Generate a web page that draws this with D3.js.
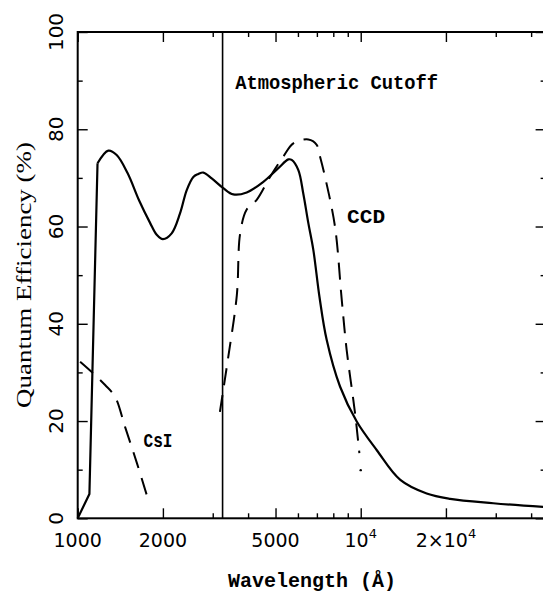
<!DOCTYPE html>
<html>
<head>
<meta charset="utf-8">
<script src="https://cdn.jsdelivr.net/npm/d3@7"></script>
<style>
  html, body { margin: 0; padding: 0; background: #fff; }
  svg { display: block; }
</style>
</head>
<body>
<script>
// ---------- data ----------
// leading straight segment of the solid (detector) curve
const solidRise = [[1000,0],[1100,5],[1175,73]];
// smooth remainder of the solid curve
const solidCurve = [
  [1175,73],[1283,75.6],[1373,74.7],[1500,71],[1650,65.3],[1800,60.8],[1902,58.3],[2000,57.4],
  [2148,58.6],[2299,62.7],[2428,67.5],[2562,70.2],[2668,70.8],[2779,71.1],[2975,69.9],
  [3269,67.9],[3546,66.6],[3955,67],[4527,69.2],[5114,72],[5550,73.8],[5702,73.7],
  [6020,71.6],[6266,66.8],[6530,60.7],[6800,55.2],[7150,45.5],[7580,36.7],[8450,27.1],
  [9680,19.9],[11400,14],[13800,7.9],[17100,5.1],[20700,4],[29400,3.1],[45000,2.3]
];
const ccdCurve = [
  [3180,21.9],[3400,33],[3650,45.9],[3750,58.6],[3955,63.5],[4290,65.5],[4781,70.2],
  [5330,74.4],[5780,77.1],[6530,77.9],[6990,76.8],[7180,74.4],[7480,70.2],[8110,60],
  [8570,44.9],[8920,34.6],[9550,21.6],[9890,13.4]
];
const ccdEndDot = [10000, 9.9];
const csiCurve = [
  [1020,32.2],[1135,29.8],[1250,27.4],[1355,25],[1470,18.8],[1620,11.3],[1760,4.5]
];
const cutoffWavelength = 3250;
const xDomain = [1000, 45000];
const yDomain = [0, 100];
const xMajorTicks = [1000, 2000, 5000, 10000, 20000];
const xMajorLabels = ["1000", "2000", "5000", "10^4", "2×10^4"];
const xMinorTicks = [3000, 4000, 6000, 7000, 8000, 9000, 30000, 40000];
const yMajorTicks = [0, 20, 40, 60, 80, 100];
const yMinorTicks = [10, 30, 50, 70, 90];
const annotations = [
  { text: "Atmospheric Cutoff", x: 3600, y: 88.3, len: 203 },
  { text: "CCD", x: 8950, y: 60.8, len: 38 },
  { text: "CsI", x: 1708, y: 14.7, len: 29 }
];
const xTitle = "Wavelength (Å)";
const yTitle = "Quantum Efficiency (%)";

// ---------- layout ----------
const W = 543, H = 592;
const L = 77.7, R = 545.6, T = 32, B = 518.3;

const svg = d3.select("body").append("svg").attr("width", W).attr("height", H);
svg.append("rect").attr("width", W).attr("height", H).attr("fill", "#fff");

const x = d3.scaleLog().domain(xDomain).range([L, R]);
const y = d3.scaleLinear().domain(yDomain).range([B, T]);

const mono = "'Liberation Mono', 'DejaVu Sans Mono', monospace";
const sans = "'DejaVu Sans', sans-serif";
const serif = "'Liberation Serif', 'DejaVu Serif', serif";

// ---------- axes (ticks inward on all four sides) ----------
function strip(g) { g.select(".domain").remove(); g.selectAll("line").attr("stroke", "#000").attr("stroke-width", 1.4); }

svg.append("g").attr("transform", `translate(0,${B})`)
  .call(d3.axisBottom(x).tickValues(xMajorTicks).tickSizeInner(-10).tickSizeOuter(0).tickFormat(""))
  .call(strip);
svg.append("g").attr("transform", `translate(0,${B})`)
  .call(d3.axisBottom(x).tickValues(xMinorTicks).tickSizeInner(-5).tickSizeOuter(0).tickFormat(""))
  .call(strip);
svg.append("g").attr("transform", `translate(0,${T})`)
  .call(d3.axisTop(x).tickValues(xMajorTicks).tickSizeInner(-10).tickSizeOuter(0).tickFormat(""))
  .call(strip);
svg.append("g").attr("transform", `translate(0,${T})`)
  .call(d3.axisTop(x).tickValues(xMinorTicks).tickSizeInner(-5).tickSizeOuter(0).tickFormat(""))
  .call(strip);
svg.append("g").attr("transform", `translate(${L},0)`)
  .call(d3.axisLeft(y).tickValues(yMajorTicks).tickSizeInner(-10).tickSizeOuter(0).tickFormat(""))
  .call(strip);
svg.append("g").attr("transform", `translate(${L},0)`)
  .call(d3.axisLeft(y).tickValues(yMinorTicks).tickSizeInner(-5).tickSizeOuter(0).tickFormat(""))
  .call(strip);
svg.append("g").attr("transform", `translate(${R},0)`)
  .call(d3.axisRight(y).tickValues(yMajorTicks).tickSizeInner(-10).tickSizeOuter(0).tickFormat(""))
  .call(strip);
svg.append("g").attr("transform", `translate(${R},0)`)
  .call(d3.axisRight(y).tickValues(yMinorTicks).tickSizeInner(-5).tickSizeOuter(0).tickFormat(""))
  .call(strip);

// frame
svg.append("rect").attr("x", L).attr("y", T).attr("width", R - L).attr("height", B - T)
  .attr("fill", "none").attr("stroke", "#000").attr("stroke-width", 2);

// x tick labels
xMajorTicks.forEach((v, i) => {
  const lab = xMajorLabels[i];
  const t = svg.append("text").attr("x", x(v)).attr("y", 547)
    .attr("text-anchor", "middle").attr("font-family", sans).attr("font-size", 19).attr("fill", "#000");
  if (lab.includes("^")) {
    const [base, exp] = lab.split("^");
    t.append("tspan").text(base);
    t.append("tspan").attr("dy", -9).attr("font-size", 13).text(exp);
  } else {
    t.text(lab);
  }
});

// y tick labels (rotated)
yMajorTicks.forEach(v => {
  svg.append("text")
    .attr("transform", `translate(63,${y(v)}) rotate(-90)`)
    .attr("text-anchor", "middle").attr("font-family", sans).attr("font-size", 20).attr("fill", "#000")
    .text(v);
});

// axis titles
svg.append("text").attr("x", 312).attr("y", 587).attr("text-anchor", "middle")
  .attr("font-family", mono).attr("font-weight", "bold").attr("font-size", 21)
  .attr("textLength", 168).attr("lengthAdjust", "spacingAndGlyphs").text(xTitle);
svg.append("text").attr("transform", `translate(31,275) rotate(-90)`).attr("text-anchor", "middle")
  .attr("font-family", serif).attr("font-size", 21)
  .attr("textLength", 266).attr("lengthAdjust", "spacingAndGlyphs").text(yTitle);

// ---------- cutoff line ----------
svg.append("line").attr("x1", x(cutoffWavelength)).attr("x2", x(cutoffWavelength))
  .attr("y1", y(100)).attr("y2", y(0)).attr("stroke", "#000").attr("stroke-width", 1.6);

// ---------- curves ----------
const lineLin = d3.line().x(d => x(d[0])).y(d => y(d[1]));
const lineSmooth = d3.line().x(d => x(d[0])).y(d => y(d[1])).curve(d3.curveCatmullRom.alpha(0.5));

svg.append("path").datum(solidRise).attr("d", lineLin)
  .attr("fill", "none").attr("stroke", "#000").attr("stroke-width", 2.2).attr("stroke-linejoin", "round");
svg.append("path").datum(solidCurve).attr("d", lineSmooth)
  .attr("fill", "none").attr("stroke", "#000").attr("stroke-width", 2.2).attr("stroke-linejoin", "round");
svg.append("path").datum(ccdCurve).attr("d", lineSmooth)
  .attr("fill", "none").attr("stroke", "#000").attr("stroke-width", 2).attr("stroke-dasharray", "17,10");
svg.append("circle").attr("cx", x(ccdEndDot[0])).attr("cy", y(ccdEndDot[1])).attr("r", 1.2).attr("fill", "#000");
svg.append("path").datum(csiCurve).attr("d", lineSmooth)
  .attr("fill", "none").attr("stroke", "#000").attr("stroke-width", 2).attr("stroke-dasharray", "17,10");

// ---------- annotations ----------
annotations.forEach(a => {
  svg.append("text").attr("x", x(a.x)).attr("y", y(a.y))
    .attr("font-family", mono).attr("font-weight", "bold").attr("font-size", 21).attr("fill", "#000")
    .attr("textLength", a.len).attr("lengthAdjust", "spacingAndGlyphs").text(a.text);
});
</script>
</body>
</html>
